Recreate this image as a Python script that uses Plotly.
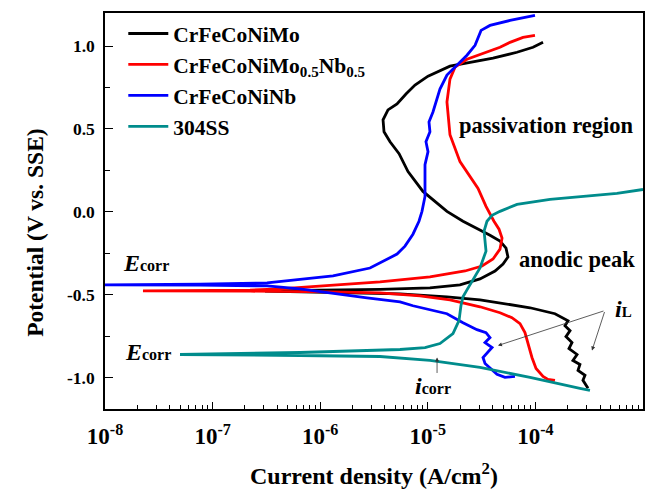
import numpy as np
import plotly.graph_objects as go

# ---- data (log10 of current density in A/cm^2, potential in V vs. SSE) ----
mo_logi = [-3.511, -3.558, -3.539, -3.604, -3.586, -3.651, -3.613, -3.688, -3.660, -3.716,
           -3.678, -3.725, -3.697, -3.818, -4.050, -4.329, -4.515, -4.822, -5.258, -5.723,
           -6.188, -6.513, -6.188, -5.723, -5.444, -4.980, -4.701, -4.515, -4.375, -4.301,
           -4.255, -4.273, -4.329, -4.422, -4.543, -4.673, -4.822, -5.045, -5.184, -5.267,
           -5.351, -5.407, -5.416, -5.370, -5.286, -5.203, -5.119, -4.998, -4.794, -4.608,
           -4.394, -4.171, -4.022, -3.929]
mo_E = [-1.065, -1.017, -0.987, -0.957, -0.921, -0.897, -0.861, -0.825, -0.789, -0.753,
        -0.717, -0.687, -0.657, -0.615, -0.579, -0.549, -0.531, -0.513, -0.495, -0.489,
        -0.484, -0.479, -0.474, -0.471, -0.468, -0.459, -0.441, -0.405, -0.357, -0.315,
        -0.273, -0.219, -0.177, -0.141, -0.099, -0.057, 0.003, 0.123, 0.243, 0.351,
        0.423, 0.483, 0.555, 0.615, 0.651, 0.711, 0.765, 0.819, 0.879, 0.903,
        0.927, 0.963, 0.993, 1.023]

monb_logi = [-3.818, -3.883, -3.929, -3.994, -4.032, -4.060, -4.097, -4.143, -4.218, -4.329,
             -4.515, -4.794, -5.072, -5.444, -5.909, -6.652, -7.647, -6.652, -6.374, -5.444,
             -4.980, -4.654, -4.496, -4.394, -4.329, -4.310, -4.338, -4.385, -4.459, -4.533,
             -4.636, -4.701, -4.794, -4.822, -4.794, -4.747, -4.636, -4.450, -4.329, -4.236,
             -4.115, -4.004]
monb_E = [-1.017, -1.011, -0.993, -0.945, -0.879, -0.807, -0.729, -0.675, -0.639, -0.609,
          -0.573, -0.531, -0.507, -0.489, -0.483, -0.479, -0.477, -0.473, -0.465, -0.423,
          -0.393, -0.357, -0.327, -0.285, -0.225, -0.159, -0.105, -0.057, 0.033, 0.141,
          0.243, 0.303, 0.465, 0.663, 0.801, 0.873, 0.921, 0.963, 0.993, 1.023,
          1.053, 1.065]

nb_logi = [-4.190, -4.283, -4.357, -4.422, -4.468, -4.487, -4.441, -4.403, -4.468, -4.422,
           -4.459, -4.543, -4.673, -4.822, -5.138, -5.258, -5.565, -5.909, -6.188, -6.494,
           -7.117, -8.0, -7.117, -6.494, -5.881, -5.537, -5.416, -5.286, -5.212, -5.138,
           -5.082, -5.054, -5.026, -5.026, -5.026, -4.998, -5.017, -4.980, -4.989, -4.952,
           -4.924, -4.887, -4.822, -4.729, -4.636, -4.561, -4.533, -4.505, -4.422, -4.236,
           -4.004]
nb_E = [-0.993, -0.999, -0.981, -0.945, -0.915, -0.879, -0.849, -0.819, -0.789, -0.759,
        -0.729, -0.711, -0.669, -0.615, -0.567, -0.543, -0.519, -0.489, -0.465, -0.447,
        -0.442, -0.441, -0.437, -0.429, -0.387, -0.339, -0.297, -0.255, -0.207, -0.135,
        -0.057, 0.003, 0.093, 0.165, 0.285, 0.363, 0.423, 0.483, 0.543, 0.603,
        0.663, 0.741, 0.825, 0.885, 0.945, 1.005, 1.053, 1.095, 1.125, 1.155,
        1.185]

ss_logi = [-3.493, -3.586, -4.050, -4.515, -4.980, -5.444, -6.188, -7.303, -6.188, -5.909,
           -5.258, -5.026, -4.887, -4.766, -4.710, -4.692, -4.673, -4.636, -4.589, -4.515,
           -4.459, -4.468, -4.477, -4.450, -4.403, -4.329, -4.171, -3.864, -3.558, -3.242,
           -3.0]
ss_E = [-1.077, -1.065, -0.999, -0.939, -0.897, -0.873, -0.867, -0.861, -0.849, -0.843,
        -0.831, -0.819, -0.795, -0.735, -0.657, -0.567, -0.513, -0.471, -0.417, -0.339,
        -0.237, -0.177, -0.117, -0.057, -0.021, 0.003, 0.045, 0.075, 0.093, 0.111,
        0.135]

series_names = ["CrFeCoNiMo", "CrFeCoNiMo<sub>0.5</sub>Nb<sub>0.5</sub>", "CrFeCoNiNb", "304SS"]
series_colors = ["#000000", "#ff0000", "#0000ff", "#008c8c"]

x_tickvals = [1e-8, 1e-7, 1e-6, 1e-5, 1e-4, 1e-3]
x_ticktext = ["10<sup>-8</sup>", "10<sup>-7</sup>", "10<sup>-6</sup>", "10<sup>-5</sup>",
              "10<sup>-4</sup>", "10<sup>-3</sup>"]
y_tickvals = [-1.0, -0.5, 0.0, 0.5, 1.0]
y_ticktext = ["-1.0", "-0.5", "0.0", "0.5", "1.0"]
y_minor = [-0.75, -0.25, 0.25, 0.75]

FONT = "Liberation Serif"

fig = go.Figure()
all_series = [(mo_logi, mo_E), (monb_logi, monb_E), (nb_logi, nb_E), (ss_logi, ss_E)]
for (li, E), name, col in zip(all_series, series_names, series_colors):
    fig.add_trace(go.Scatter(x=10 ** np.array(li), y=E, mode="lines", name=name,
                             line=dict(color=col, width=2.8)))

x_minor = [m * 10.0 ** d for d in range(-8, -3) for m in range(2, 10)]

fig.update_layout(
    width=657, height=491,
    margin=dict(l=105, r=14, t=11, b=82),
    paper_bgcolor="white", plot_bgcolor="white",
    font=dict(family=FONT, size=22, color="black", weight="bold"),
    showlegend=True,
    legend=dict(x=0.034, y=1.0, xanchor="left", yanchor="top",
                bgcolor="rgba(0,0,0,0)", font=dict(family=FONT, size=21.5, weight="bold"),
                itemwidth=40, tracegroupgap=0),
    xaxis=dict(type="log", range=[-8, -3], showgrid=False, zeroline=False,
               showline=True, linecolor="black", linewidth=1.5, mirror=True,
               ticks="inside", ticklen=7, tickwidth=1.2, tickcolor="black",
               tickmode="array", tickvals=x_tickvals, ticktext=x_ticktext,
               tickfont=dict(family=FONT, size=23, weight="bold"),
               ticklabelstandoff=6,
               minor=dict(tickmode="array", tickvals=x_minor, ticks="inside",
                          ticklen=4, tickwidth=1, tickcolor="black", showgrid=False)),
    yaxis=dict(range=[-1.19, 1.2], showgrid=False, zeroline=False,
               showline=True, linecolor="black", linewidth=1.5, mirror=True,
               ticks="inside", ticklen=8, tickwidth=1.2, tickcolor="black",
               tickmode="array", tickvals=y_tickvals, ticktext=y_ticktext,
               tickfont=dict(family=FONT, size=17.5, weight="bold"),
               ticklabelstandoff=5,
               minor=dict(tickmode="array", tickvals=y_minor, ticks="inside",
                          ticklen=5, tickwidth=1, tickcolor="black", showgrid=False)),
)

def txt(text, x, y, size=22.5, xanchor="center", xref="paper", yref="paper"):
    fig.add_annotation(text=text, x=x, y=y, xref=xref, yref=yref, showarrow=False,
                       xanchor=xanchor, yanchor="middle",
                       font=dict(family=FONT, size=size, color="black", weight="bold"))

# axis titles
txt("Current density (A/cm<sup>2</sup>)", 0.5, -0.163, size=24)
fig.add_annotation(text="Potential (V vs. SSE)", x=-0.13, y=0.445, xref="paper", yref="paper",
                   showarrow=False, textangle=-90, xanchor="center", yanchor="middle",
                   font=dict(family=FONT, size=23.5, color="black", weight="bold"))

# labels
txt("passivation region", 0.82, 0.7155)
txt("anodic peak", 0.877, 0.3766)
ecorr = "<i>E</i><span style='font-size:16px'>corr</span>"
txt(ecorr, 0.029, 0.369, size=24, xanchor="left")
txt(ecorr, 0.033, 0.143, size=24, xanchor="left")
txt("<i>i</i><span style='font-size:16px'>corr</span>", 0.6097, 0.0577, size=24)
txt("<i>i</i><span style='font-size:15px'>L</span>", 0.963, 0.2536, size=24)

# arrows (heads at data positions; log10 values for x on log axis)
arrow_heads = [(-4.914, -0.879, 0, 17), (-4.348, -0.807, 107, -35), (-3.474, -0.837, 13, -40)]
for hx, hy, ax, ay in arrow_heads:
    fig.add_annotation(x=hx, y=hy, xref="x", yref="y", ax=ax, ay=ay, text="",
                       showarrow=True, arrowhead=2, arrowsize=1, arrowwidth=0.8,
                       arrowcolor="#333333")

fig.write_html("out.html", config={"displayModeBar": False},
               post_script="document.body.style.margin='0px';")
